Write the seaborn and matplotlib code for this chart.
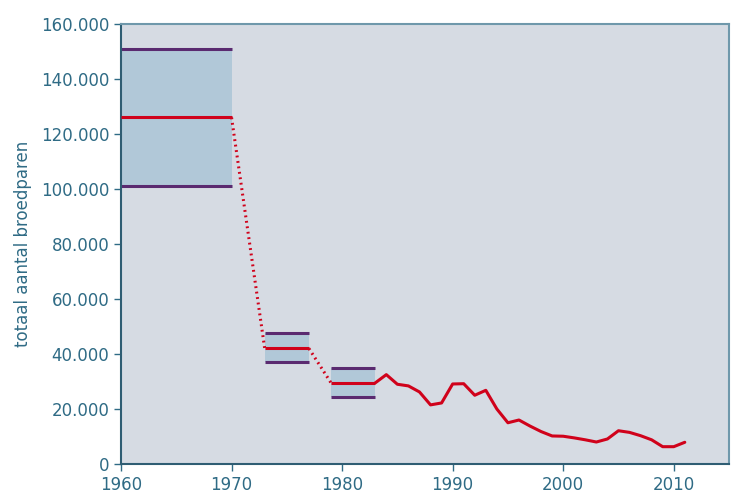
import numpy as np
import pandas as pd
import seaborn as sns
import matplotlib.pyplot as plt
from matplotlib.ticker import FuncFormatter

# estimated ranges (low, mid, high) for early periods
periods = [(1960, 1970), (1973, 1977), (1979, 1983)]
low_vals = [101000, 37000, 24500]
mid_vals = [126000, 42000, 29500]
high_vals = [151000, 47500, 35000]

years = list(range(1983, 2012))
pairs = [29500, 32500, 29000, 28400, 26200, 21500, 22200, 29100, 29200, 25000,
         26800, 20000, 15000, 16000, 13800, 11800, 10200, 10100, 9500, 8800,
         8000, 9100, 12100, 11500, 10300, 8800, 6300, 6300, 7900]

text_col = "#2f6b85"
red = "#d0021b"
purple = "#5a2a70"
band = "#b1c8d8"

sns.set_theme(style="white")
plt.rcParams['font.family'] = ['DejaVu Sans']

fig = plt.figure(figsize=(7.36, 4.95), dpi=100)
ax = fig.add_axes([0.1644, 0.0626, 0.8261, 0.889])
ax.set_facecolor("#d6dbe3")

for (x0, x1), lo, mid, hi in zip(periods, low_vals, mid_vals, high_vals):
    ax.fill_between([x0, x1], [lo, lo], [hi, hi], color=band, lw=0, zorder=1)
    ax.hlines([lo, hi], x0, x1, color=purple, lw=2.2, zorder=2)
    ax.hlines(mid, x0, x1, color=red, lw=2.2, zorder=3)

# dotted connections between periods
for i in range(len(periods) - 1):
    ax.plot([periods[i][1], periods[i + 1][0]], [mid_vals[i], mid_vals[i + 1]],
            color=red, lw=2.2, ls=(0, (0.6, 1.2)), zorder=3)

df = pd.DataFrame({"jaar": years, "broedparen": pairs})
sns.lineplot(data=df, x="jaar", y="broedparen", color=red, lw=2.2, ax=ax, zorder=4)

ax.set_xlim(1960, 2015)
ax.set_ylim(0, 160000)
ax.set_xticks(range(1960, 2011, 10))
ax.set_yticks(range(0, 160001, 20000))
ax.yaxis.set_major_formatter(FuncFormatter(lambda v, p: "0" if v == 0 else f"{int(v):,}".replace(",", ".")))
ax.set_xlabel("")
ax.set_ylabel("totaal aantal broedparen", color=text_col, fontsize=12, labelpad=6)

ax.tick_params(axis="both", colors=text_col, labelsize=12, length=5, width=1,
               direction="out", bottom=True, left=True)
for s in ["top", "right"]:
    ax.spines[s].set_color("#6f98ab")
    ax.spines[s].set_linewidth(1.5)
for s in ["left", "bottom"]:
    ax.spines[s].set_color("#2f5d73")
    ax.spines[s].set_linewidth(1.5)

fig.savefig("out.png", dpi=100)
